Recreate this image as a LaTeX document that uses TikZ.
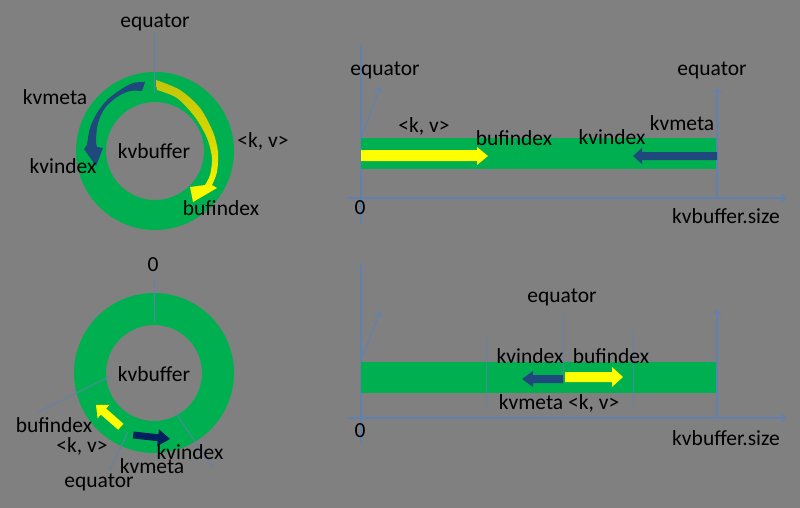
\documentclass[tikz,border=0pt]{standalone}
\usepackage{fontspec}
\setmainfont{Carlito}
\usetikzlibrary{arrows.meta}
\definecolor{bg}{RGB}{128,128,128}
\definecolor{ring}{RGB}{0,176,80}
\definecolor{yel}{RGB}{255,255,0}
\definecolor{dyel}{RGB}{196,196,10}
\definecolor{blu}{RGB}{31,73,125}
\definecolor{navy}{RGB}{0,32,96}
\definecolor{axis}{RGB}{96,128,176}
\begin{document}
\begin{tikzpicture}[x=1pt,y=1pt,
  lbl/.style={font=\fontsize{21.5}{24}\selectfont, anchor=base, inner sep=0pt, text=black},
  ax/.style={draw=axis, line width=1.1pt},
  thin ax/.style={draw=axis, line width=0.8pt},
  axarrow/.style={ax, -{Straight Barb[length=4pt,width=8pt]}}]
\fill[bg] (0,0) rectangle (800,-508);
\useasboundingbox (0,0) rectangle (800,-508);

% ---------- top-left ring ----------
\coordinate (c1) at (155,-151);
\fill[ring, even odd rule] (c1) circle[radius=79] (c1) circle[radius=49];
\draw[thin ax] (154,-32) -- (154,-93);
% blue curved arrow (kvmeta -> kvindex)
\fill[blu] plot[smooth] coordinates {(145,-82)(133,-83)(120,-90)(107,-100)(97,-113)(90,-128)(87,-145)}
  -- (84,-149) -- (96,-166) -- (103,-148)
  -- plot[smooth] coordinates {(97,-147)(96,-140)(98,-123)(105,-108)(117,-97)(130,-91)(142,-91)} -- cycle;
% yellow curved arrow (<k,v> -> bufindex)
\shade[top color=dyel, bottom color=yel, middle color=yel!85!black]
  plot[smooth] coordinates {(156,-80)(180,-90)(200,-108)(213,-132)(218,-152)(217,-172)(212,-185)}
  -- (217,-188) -- (193,-202) -- (190,-187)
  -- plot[smooth] coordinates {(205,-185)(210,-175)(212,-158)(207,-138)(195,-117)(177,-98)(157,-90)} -- cycle;
\node[lbl] (teq) at (155,-28) {equator};
\node[lbl] (tmeta) at (55,-105) {kvmeta};
\node[lbl] (tidx) at (63,-173) {kvindex};
\node[lbl] (tbuf) at (154,-158) {kvbuffer};
\node[lbl] (tkv) at (263,-147) {<k, v>};
\node[lbl] (tbi) at (221,-215) {bufindex};

% ---------- bottom-left ring ----------
\coordinate (c2) at (154,-373);
\fill[ring, even odd rule] (c2) circle[radius=80] (c2) circle[radius=48];
\draw[thin ax] (154,-277) -- (154,-322);
\draw[thin ax] (111,-376) -- (38,-412);
\draw[thin ax] (128,-432) -- (110,-470);
\draw[thin ax] (175,-412) -- (213,-468);
% yellow block arrow
\begin{scope}[shift={(96,-405)}, rotate=138.7]
  \fill[yel] (0,0) -- (-10,9) -- (-10,4) -- (-33,4) -- (-33,-4) -- (-10,-4) -- (-10,-9) -- cycle;
\end{scope}
% navy block arrow
\begin{scope}[shift={(170,-439)}, rotate=-6.2]
  \fill[navy] (0,0) -- (-12,8.5) -- (-12,3.5) -- (-37,3.5) -- (-37,-3.5) -- (-12,-3.5) -- (-12,-8.5) -- cycle;
\end{scope}
\node[lbl] (bzero) at (153,-271) {0};
\node[lbl] (bbuf) at (154,-381) {kvbuffer};
\node[lbl] (bbi) at (54,-432) {bufindex};
\node[lbl] (bkv) at (82,-452) {<k, v>};
\node[lbl] (bidx) at (190,-459) {kvindex};
\node[lbl] (bmeta) at (152,-473) {kvmeta};
\node[lbl] (beq) at (99,-487) {equator};

% ---------- top-right panel ----------
\draw[axarrow] (347,-198) -- (786,-198);
\draw[ax] (361,-45) -- (361,-223);
\fill[ring] (361,-138) rectangle (717,-169);
\draw[axarrow] (717,-198) -- (717,-88);
\draw[axarrow] (361,-138) -- (380,-87);
\fill[yel] (361,-150) -- (477,-150) -- (477,-147) -- (488,-156) -- (477,-165) -- (477,-161) -- (361,-161) -- cycle;
\fill[blu] (717,-152) -- (642,-152) -- (642,-148) -- (633,-156) -- (642,-164) -- (642,-160) -- (717,-160) -- cycle;
\node[lbl] (req1) at (385,-76) {equator};
\node[lbl] (req2) at (712,-76) {equator};
\node[lbl] (rkv) at (424,-132) {<k, v>};
\node[lbl] (rbi) at (514,-146) {bufindex};
\node[lbl] (ridx) at (612,-145) {kvindex};
\node[lbl] (rmeta) at (682,-131) {kvmeta};
\node[lbl] (rzero) at (360,-214) {0};
\node[lbl] (rsize) at (726,-223) {kvbuffer.size};

% ---------- bottom-right panel ----------
\draw[axarrow] (347,-418) -- (786,-418);
\draw[ax] (361,-265) -- (361,-443);
\fill[ring] (361,-362) rectangle (717,-393);
\draw[axarrow] (717,-418) -- (717,-310);
\draw[axarrow] (361,-360) -- (380,-312);
\draw[thin ax, draw opacity=0.8] (486,-335) -- (486,-407);
\draw[thin ax, draw opacity=0.8] (563,-312) -- (563,-378);
\draw[thin ax, draw opacity=0.8] (633,-330) -- (633,-407);
\fill[blu] (563,-375) -- (533,-375) -- (533,-371) -- (522,-379) -- (533,-387) -- (533,-383) -- (563,-383) -- cycle;
\fill[yel] (565,-372) -- (612,-372) -- (612,-367) -- (623,-377) -- (612,-387) -- (612,-382) -- (565,-382) -- cycle;
\node[lbl] (seq) at (562,-302) {equator};
\node[lbl] (sidx) at (530,-363) {kvindex};
\node[lbl] (sbi) at (611,-363) {bufindex};
\node[lbl] (smkv) at (559,-409) {kvmeta <k, v>};
\node[lbl] (szero) at (360,-437) {0};
\node[lbl] (ssize) at (726,-445) {kvbuffer.size};
\end{tikzpicture}
\end{document}
